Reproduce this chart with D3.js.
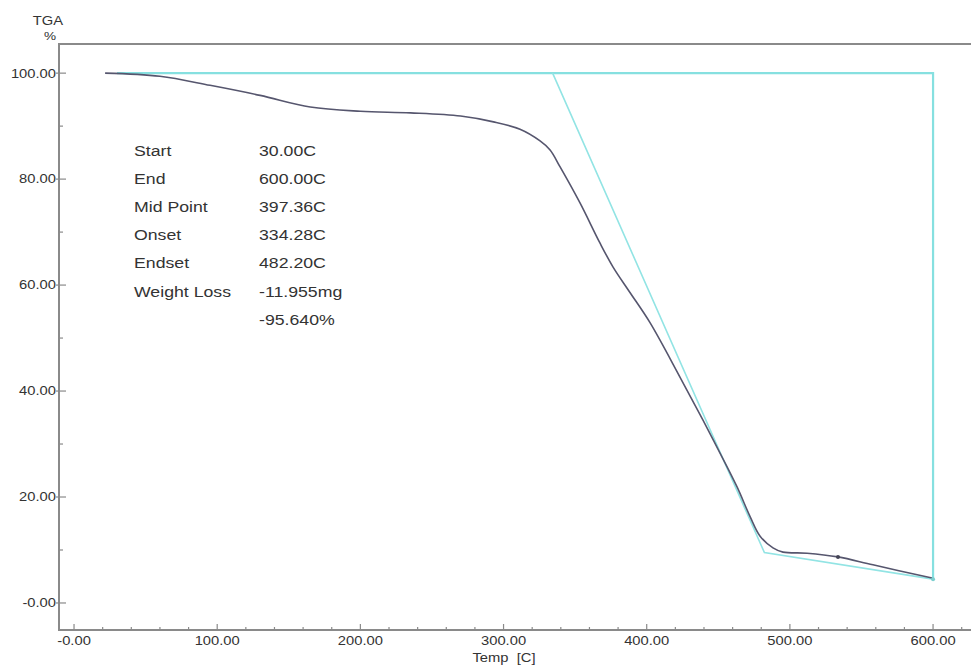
<!DOCTYPE html>
<html>
<head>
<meta charset="utf-8">
<script src="https://cdn.jsdelivr.net/npm/d3@7"></script>
<style>
  body { margin: 0; background: #fff; }
  text { font-family: "Liberation Sans", Arial, sans-serif; fill: #333; }
  .spine { stroke: #8a8a8a; stroke-width: 2; fill: none; }
  .tick { stroke: #8a8a8a; stroke-width: 1.2; }
</style>
</head>
<body>
<div id="chart"></div>
<script>
// DATA //
var tempC = [21.7, 60, 95, 130, 165, 200, 235, 270, 293, 311.5, 325.5, 332.5, 339.5, 353.4, 367.4, 376.5,
             388.3, 402.3, 423.3, 439.3, 451.2, 463.1, 472.2, 479.2, 488.2, 495.2, 512, 533.6, 558, 599.3];
var weightPct = [100, 99.4, 97.7, 95.8, 93.6, 92.8, 92.5, 91.9, 90.8, 89.4, 87.2, 85.5, 82.3, 75.5, 67.9, 63.4,
                 58.6, 52.9, 42.6, 34.5, 28.3, 21.9, 16.3, 12.6, 10.4, 9.6, 9.4, 8.7, 7.2, 4.7];

// analysis construction lines (cyan)
var baseTemp = [30, 600, 600];
var baseWeight = [100, 100, 4.5];
var tangentTemp = [334.28, 482.2, 600];
var tangentWeight = [100, 9.5, 4.5];

var xTicks = [0, 100, 200, 300, 400, 500, 600];
var xTickLabels = ["-0.00", "100.00", "200.00", "300.00", "400.00", "500.00", "600.00"];
var yTicks = [0, 20, 40, 60, 80, 100];
var yTickLabels = ["-0.00", "20.00", "40.00", "60.00", "80.00", "100.00"];

var infoNames = ["Start", "End", "Mid Point", "Onset", "Endset", "Weight Loss", ""];
var infoValues = ["30.00C", "600.00C", "397.36C", "334.28C", "482.20C", "-11.955mg", "-95.640%"];

// SETUP //
var W = 971, H = 670;
var margin = {top: 44, right: 0, bottom: 40, left: 59},
    width = W - margin.left - margin.right,
    height = H - margin.top - margin.bottom;

var svg = d3.select("#chart").append("svg")
    .attr("width", W)
    .attr("height", H);

var x = d3.scaleLinear().domain([-10.5, 626.5]).range([margin.left, W]);
var y = d3.scaleLinear().domain([-5.1, 105.5]).range([margin.top + height, margin.top]);

// the instrument print is a bit stretched sideways, so text gets a wide scale
var stretch = 1.18;
function place(sel, fx, fy) {
  sel.attr("transform", function(d, i) {
    return "translate(" + fx(d, i) + "," + fy(d, i) + ") scale(" + stretch + ",1)";
  });
}

// SPINES //
svg.append("path")
    .attr("class", "spine")
    .attr("d", "M" + W + "," + margin.top + "H" + margin.left + "V" + (margin.top + height) + "H" + W);

// Y TICKS //
var yMinor = d3.range(0, 101, 10).filter(function(v) { return v % 20 !== 0; });
svg.selectAll(".ymin").data(yMinor).enter().append("line")
    .attr("class", "tick")
    .attr("x1", margin.left).attr("x2", margin.left + 4)
    .attr("y1", function(d) { return y(d); }).attr("y2", function(d) { return y(d); });
svg.selectAll(".ymaj").data(yTicks).enter().append("line")
    .attr("class", "tick")
    .attr("x1", margin.left - 3).attr("x2", margin.left + 7)
    .attr("y1", function(d) { return y(d); }).attr("y2", function(d) { return y(d); });
svg.selectAll(".ylab").data(yTicks).enter().append("text")
    .attr("dy", "0.35em")
    .attr("text-anchor", "end")
    .attr("font-size", "12.5px")
    .text(function(d, i) { return yTickLabels[i]; })
    .call(place, function() { return margin.left - 3; }, function(d) { return y(d); });

// X TICKS //
var xMinor = d3.range(0, 621, 20).filter(function(v) { return v % 100 !== 0; });
var yBottom = margin.top + height;
svg.selectAll(".xmin").data(xMinor).enter().append("line")
    .attr("class", "tick")
    .attr("x1", function(d) { return x(d); }).attr("x2", function(d) { return x(d); })
    .attr("y1", yBottom).attr("y2", yBottom - 3);
svg.selectAll(".xmaj").data(xTicks).enter().append("line")
    .attr("class", "tick")
    .attr("x1", function(d) { return x(d); }).attr("x2", function(d) { return x(d); })
    .attr("y1", yBottom).attr("y2", yBottom - 6);
svg.selectAll(".xlab").data(xTicks).enter().append("text")
    .attr("text-anchor", "middle")
    .attr("font-size", "12.5px")
    .text(function(d, i) { return xTickLabels[i]; })
    .call(place, function(d) { return x(d); }, function() { return yBottom + 15; });

// AXIS TITLES //
svg.append("text").attr("text-anchor", "middle")
    .attr("font-size", "12.5px").attr("xml:space", "preserve").text("Temp  [C]")
    .attr("transform", "translate(504,662) scale(" + stretch + ",1)");
svg.append("text").attr("text-anchor", "middle")
    .attr("font-size", "12.5px").text("TGA")
    .attr("transform", "translate(48,25) scale(" + stretch + ",1)");
svg.append("text").attr("text-anchor", "middle")
    .attr("font-size", "11.5px").text("%")
    .attr("transform", "translate(50,40) scale(" + stretch + ",1)");

// CURVES //
var line = d3.line()
    .x(function(d) { return x(d[0]); })
    .y(function(d) { return y(d[1]); });

svg.append("path")
    .datum(d3.zip(baseTemp, baseWeight))
    .attr("d", line)
    .attr("fill", "none")
    .attr("stroke", "#86e0e0")
    .attr("stroke-width", 2.2);

svg.append("path")
    .datum(d3.zip(tangentTemp, tangentWeight))
    .attr("d", line)
    .attr("fill", "none")
    .attr("stroke", "#92e4e4")
    .attr("stroke-width", 1.6);

svg.append("path")
    .datum(d3.zip(tempC, weightPct))
    .attr("d", line.curve(d3.curveCatmullRom))
    .attr("fill", "none")
    .attr("stroke", "#56566e")
    .attr("stroke-width", 1.6);

// markers
svg.append("circle").attr("cx", x(533.6)).attr("cy", y(8.7)).attr("r", 2).attr("fill", "#444455");
svg.append("circle").attr("cx", x(600)).attr("cy", y(4.5)).attr("r", 2).attr("fill", "#7ccfcf");

// INFO TABLE //
svg.selectAll(".iname").data(infoNames).enter().append("text")
    .attr("font-size", "15px")
    .text(function(d) { return d; })
    .call(place, function() { return 134; }, function(d, i) { return 155.5 + i * 28.2; });
svg.selectAll(".ival").data(infoValues).enter().append("text")
    .attr("font-size", "15px")
    .text(function(d) { return d; })
    .call(place, function() { return 259; }, function(d, i) { return 155.5 + i * 28.2; });
</script>
</body>
</html>
